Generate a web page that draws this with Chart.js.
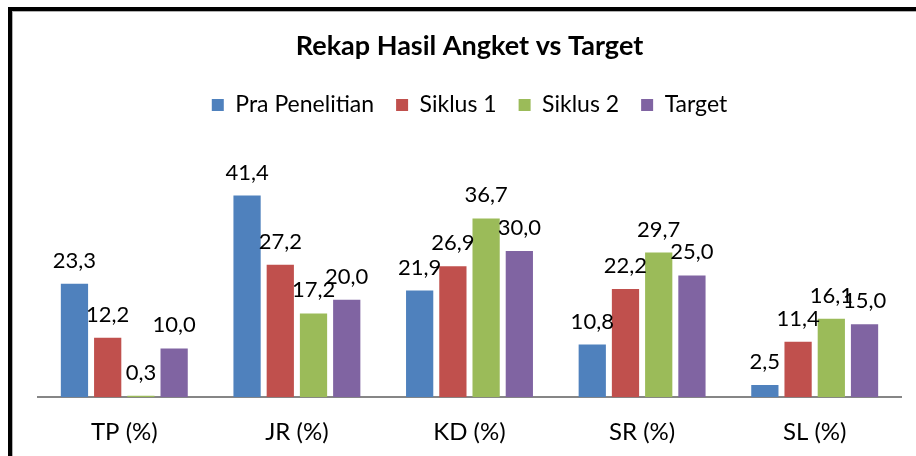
<!DOCTYPE html>
<html>
<head>
<meta charset="utf-8">
<script src="https://cdn.jsdelivr.net/npm/chart.js@4/dist/chart.umd.min.js"></script>
<style>
  html, body { margin: 0; padding: 0; background: #fff; }
  #wrap { position: relative; width: 916px; height: 456px; overflow: hidden; }
  #frame { position: absolute; left: 8px; top: 7px; width: 1000px; height: 1000px;
           border-left: 4px solid #000; border-top: 4px solid #000; box-shadow: inset 1px 1px 0 #b0b0b0; }
  canvas { position: absolute; left: 0; top: 0; }
</style>
</head>
<body>
<div id="wrap">
  <div id="frame"></div>
  <canvas id="c" width="916" height="456"></canvas>
</div>
<script>
const categories = ["TP (%)", "JR (%)", "KD (%)", "SR (%)", "SL (%)"];
const seriesNames = ["Pra Penelitian", "Siklus 1", "Siklus 2", "Target"];
const praPenelitian = [23.3, 41.4, 21.9, 10.8, 2.5];
const siklus1 = [12.2, 27.2, 26.9, 22.2, 11.4];
const siklus2 = [0.3, 17.2, 36.7, 29.7, 16.1];
const target = [10.0, 20.0, 30.0, 25.0, 15.0];
const colors = ["#4F81BD", "#C0504D", "#9BBB59", "#8064A2"];

const FONT = "Lato, 'Open Sans', sans-serif";

const valueLabels = {
  id: "valueLabels",
  afterDatasetsDraw(chart) {
    const ctx = chart.ctx;
    ctx.save();
    ctx.font = "22px " + FONT;
    ctx.fillStyle = "#000";
    ctx.textAlign = "center";
    ctx.textBaseline = "alphabetic";
    chart.data.datasets.forEach((ds, i) => {
      const meta = chart.getDatasetMeta(i);
      meta.data.forEach((el, j) => {
        const txt = ds.data[j].toFixed(1).replace(".", ",");
        ctx.fillText(txt, el.x, el.y - 16);
      });
    });
    ctx.restore();
  }
};

const allSeries = [praPenelitian, siklus1, siklus2, target];

new Chart(document.getElementById("c"), {
  type: "bar",
  data: {
    labels: categories,
    datasets: allSeries.map((d, i) => ({
      label: seriesNames[i],
      data: d,
      backgroundColor: colors[i],
      borderWidth: 0,
      categoryPercentage: 0.77,
      barPercentage: 0.82
    }))
  },
  options: {
    responsive: false,
    animation: false,
    layout: { padding: { left: 38, right: 15, top: 0, bottom: -12 } },
    plugins: {
      tooltip: { enabled: false },
      title: {
        display: true,
        text: "Rekap Hasil Angket vs Target",
        color: "#000",
        font: { family: FONT, size: 27, weight: "bold" },
        padding: { top: 30, bottom: 9 }
      },
      legend: {
        display: true,
        position: "top",
        labels: {
          color: "#000",
          font: { family: FONT, size: 23 },
          boxWidth: 12,
          boxHeight: 12,
          padding: 22
        }
      }
    },
    scales: {
      x: {
        grid: { display: false, drawTicks: false },
        border: { display: true, color: "#868686", width: 2 },
        ticks: { color: "#000", font: { family: FONT, size: 24 }, padding: 21 }
      },
      y: {
        display: false,
        min: 0,
        max: 55.6
      }
    }
  },
  plugins: [valueLabels]
});
</script>
</body>
</html>
